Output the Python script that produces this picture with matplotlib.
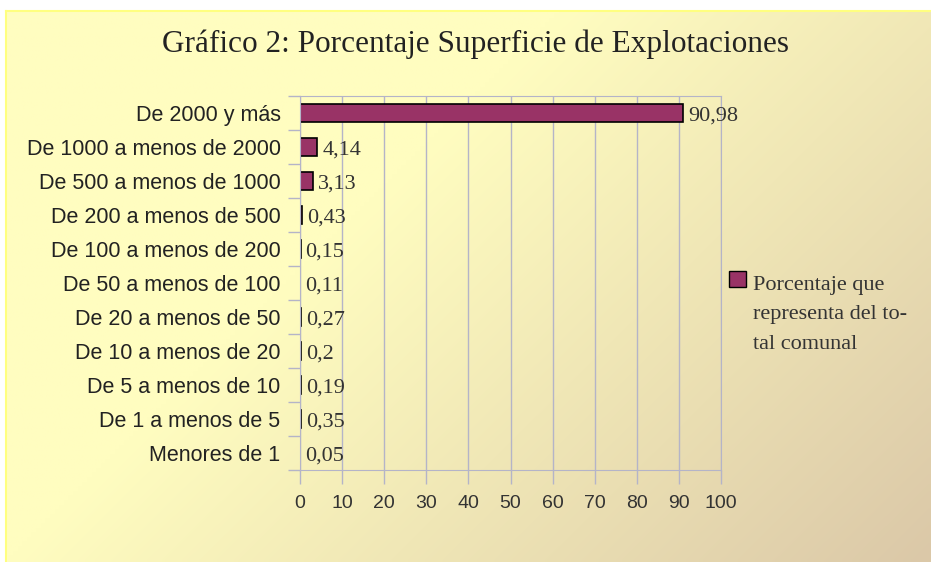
#!/usr/bin/env python3
import matplotlib
matplotlib.use('Agg')
import matplotlib.pyplot as plt
import numpy as np
from matplotlib.patches import Rectangle

categories = ['De 2000 y más', 'De 1000 a menos de 2000', 'De 500 a menos de 1000',
              'De 200 a menos de 500', 'De 100 a menos de 200', 'De 50 a menos de 100',
              'De 20 a menos de 50', 'De 10 a menos de 20', 'De 5 a menos de 10',
              'De 1 a menos de 5', 'Menores de 1']
values = [90.98, 4.14, 3.13, 0.43, 0.15, 0.11, 0.27, 0.2, 0.19, 0.35, 0.05]
value_labels = ['90,98', '4,14', '3,13', '0,43', '0,15', '0,11', '0,27', '0,2', '0,19', '0,35', '0,05']
x_ticks = list(range(0, 101, 10))
legend_label = 'Porcentaje que\nrepresenta del to-\ntal comunal'

bar_color = '#993366'
grid_color = '#B4B4C8'

W, H = 931, 562
fig = plt.figure(figsize=(W / 100, H / 100), dpi=100)

# gradient background panel (pixel coords)
bg = fig.add_axes([0, 0, 1, 1], zorder=-10)
bg.set_xlim(0, W)
bg.set_ylim(H, 0)
bg.axis('off')
gx, gy = np.meshgrid(np.linspace(0, 1, 200), np.linspace(0, 1, 120))
t = np.clip((gx * 0.75 + gy * 0.45 - 0.45) / 0.75, 0, 1)
c0 = np.array([255, 253, 192]) / 255
c1 = np.array([219, 200, 168]) / 255
img = c0[None, None, :] * (1 - t[..., None]) + c1[None, None, :] * t[..., None]
bg.imshow(img, extent=[6, W, H, 11], aspect='auto', interpolation='bilinear')
bg.plot([6, W], [11, 11], color='#FFFF80', lw=1.5)
bg.plot([6, 6], [11, H], color='#FFFF80', lw=1.5)

# legend drawn by hand
bg.add_patch(Rectangle((729, 271), 17, 16, facecolor=bar_color, edgecolor='black', lw=1))
bg.text(753, 276, legend_label, ha='left', va='top', fontsize=16, linespacing=1.75,
        family='Liberation Serif', color='#333333')

fig.text(475 / W, 1 - 44 / H, 'Gráfico 2: Porcentaje Superficie de Explotaciones',
         ha='center', va='center', fontsize=22.5, family='Liberation Serif', color='#222222')

ax = fig.add_axes([300 / W, 1 - 470 / H, 421 / W, 374 / H])
ax.patch.set_alpha(0)
y = np.arange(len(categories))
ax.barh(y, values, height=0.51, color=bar_color, edgecolor='black', linewidth=1.2)
for yi, v, lab in zip(y, values, value_labels):
    ax.annotate(lab, (v, yi), xytext=(3.5, -2), textcoords='offset points',
                va='center', ha='left', fontsize=16, family='Liberation Serif', color='#333333')

ax.set_xlim(0, 100)
ax.set_ylim(len(categories) - 0.5, -0.5)
ax.set_xticks(x_ticks)
ax.set_xticklabels([str(v) for v in x_ticks], fontsize=14, family='Liberation Sans', color='#333333')
ax.set_yticks(y)
ax.set_yticklabels(categories, fontsize=15.5, family='Liberation Sans', color='#222222')
ax.tick_params(axis='y', length=0, pad=14)
ax.set_yticks(np.arange(-0.5, len(categories), 1), minor=True)
ax.tick_params(axis='y', which='minor', length=9, color=grid_color, width=1)
ax.tick_params(axis='x', length=10, color=grid_color, width=1, pad=8)
ax.grid(axis='x', color=grid_color, linewidth=1)
ax.set_axisbelow(True)
for s in ax.spines.values():
    s.set_color(grid_color)

fig.savefig('out.png', dpi=100)
